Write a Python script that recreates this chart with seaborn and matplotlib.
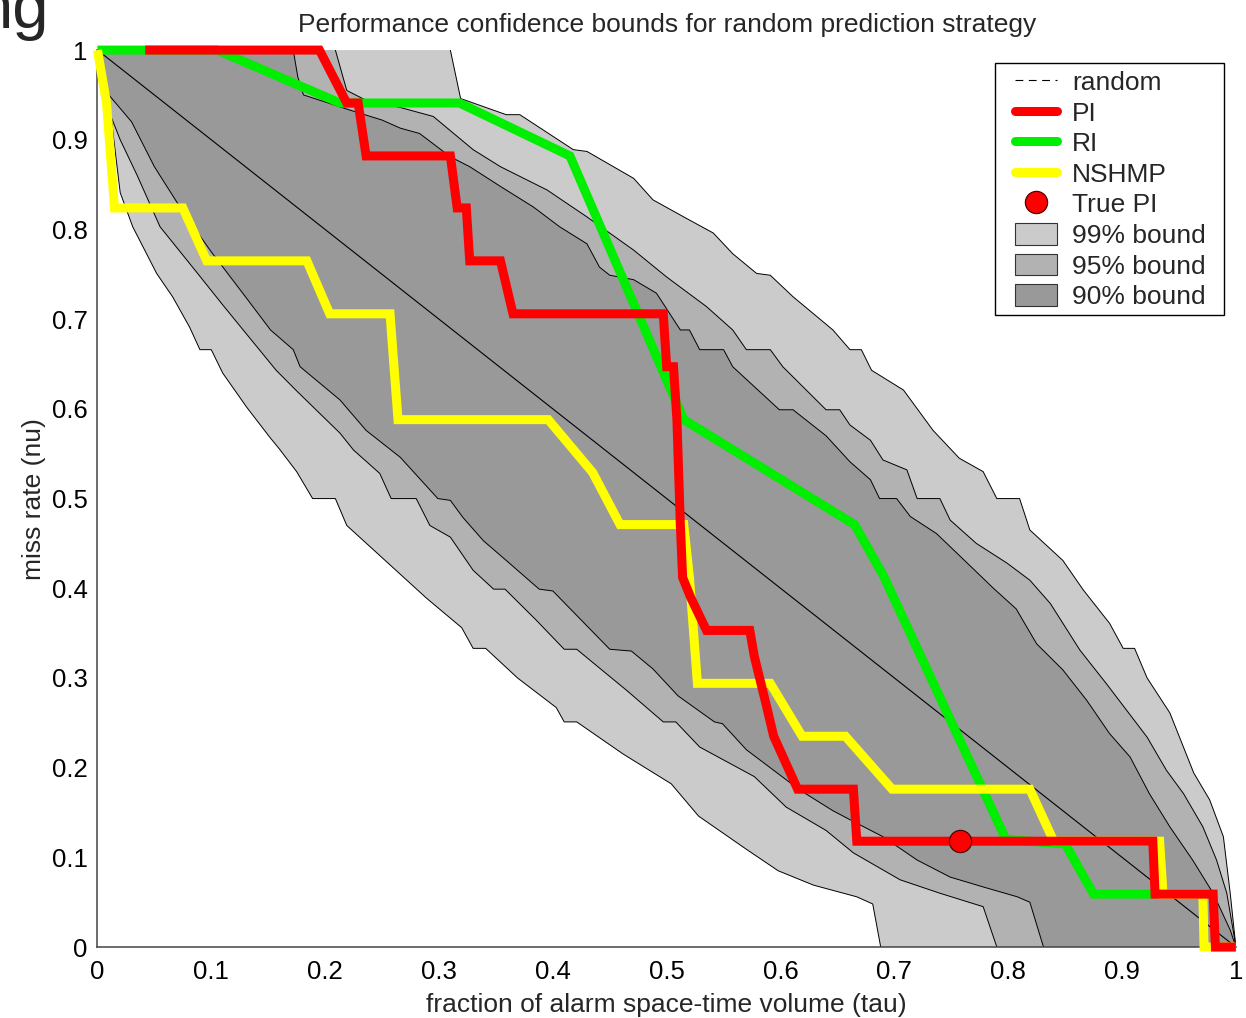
import matplotlib
matplotlib.use("Agg")
import matplotlib.pyplot as plt
import seaborn as sns
from matplotlib.lines import Line2D
from matplotlib.patches import Patch, Rectangle

# ---------------- data ----------------
tick_values = [0, 0.1, 0.2, 0.3, 0.4, 0.5, 0.6, 0.7, 0.8, 0.9, 1]
tick_labels = ["0", "0.1", "0.2", "0.3", "0.4", "0.5", "0.6", "0.7", "0.8", "0.9", "1"]

random_x = [0.0, 1.0]
random_y = [1.0, 0.0]

pi_x = [0.042, 0.195, 0.219, 0.229, 0.236, 0.310, 0.316, 0.324, 0.327, 0.354, 0.365, 0.497,
        0.500, 0.506, 0.509, 0.512, 0.514, 0.521, 0.535, 0.573, 0.577, 0.588, 0.594, 0.615,
        0.664, 0.667, 0.927, 0.929, 0.980, 0.982, 1.0]
pi_y = [1.0, 1.0, 0.941, 0.941, 0.882, 0.882, 0.824, 0.824, 0.765, 0.765, 0.706, 0.706,
        0.647, 0.647, 0.588, 0.471, 0.412, 0.390, 0.353, 0.353, 0.324, 0.267, 0.235, 0.176,
        0.176, 0.118, 0.118, 0.059, 0.059, 0.0, 0.0]

ri_x = [0.0, 0.105, 0.213, 0.318, 0.415, 0.515, 0.665, 0.690, 0.798, 0.850, 0.875, 0.929]
ri_y = [1.0, 1.0, 0.941, 0.941, 0.882, 0.588, 0.471, 0.415, 0.120, 0.115, 0.059, 0.059]

nshmp_x = [0.0, 0.008, 0.015, 0.075, 0.096, 0.184, 0.204, 0.257, 0.264, 0.396, 0.435, 0.459,
           0.515, 0.520, 0.527, 0.591, 0.619, 0.657, 0.698, 0.819, 0.840, 0.933, 0.936,
           0.971, 0.972, 1.0]
nshmp_y = [1.0, 0.941, 0.824, 0.824, 0.765, 0.765, 0.706, 0.706, 0.588, 0.588, 0.529, 0.471,
           0.471, 0.412, 0.294, 0.294, 0.235, 0.235, 0.176, 0.176, 0.118, 0.118, 0.059,
           0.059, 0.0, 0.0]

true_pi_x = [0.758]
true_pi_y = [0.118]

# 99% bound
u99_x = [0, 0.310, 0.319, 0.359, 0.371, 0.418, 0.430, 0.471, 0.488, 0.515, 0.541, 0.558, 0.579,
         0.591, 0.611, 0.629, 0.646, 0.661, 0.671, 0.680, 0.708, 0.734, 0.757, 0.778, 0.790,
         0.810, 0.819, 0.848, 0.866, 0.889, 0.901, 0.911, 0.922, 0.942, 0.963, 0.977, 0.989,
         0.995, 1.0]
u99_y = [1, 1.0, 0.946, 0.928, 0.928, 0.889, 0.887, 0.857, 0.833, 0.814, 0.796, 0.773, 0.751,
         0.749, 0.725, 0.706, 0.688, 0.666, 0.666, 0.643, 0.621, 0.576, 0.545, 0.530, 0.500,
         0.500, 0.465, 0.431, 0.398, 0.361, 0.333, 0.333, 0.300, 0.261, 0.194, 0.164, 0.123,
         0.060, 0.0]
l99_x = [0, 0.011, 0.020, 0.031, 0.052, 0.066, 0.081, 0.090, 0.100, 0.110, 0.131, 0.151, 0.160,
         0.175, 0.189, 0.209, 0.219, 0.251, 0.289, 0.320, 0.330, 0.341, 0.369, 0.403, 0.410,
         0.421, 0.462, 0.504, 0.528, 0.570, 0.598, 0.629, 0.667, 0.681, 0.688, 1.0]
l99_y = [1, 0.936, 0.841, 0.803, 0.751, 0.725, 0.691, 0.666, 0.666, 0.640, 0.602, 0.569, 0.555,
         0.530, 0.500, 0.500, 0.470, 0.433, 0.389, 0.356, 0.333, 0.333, 0.300, 0.267, 0.251,
         0.251, 0.215, 0.182, 0.146, 0.109, 0.085, 0.069, 0.056, 0.048, 0.0, 0.0]

# 95% bound
u95_x = [0, 0.209, 0.219, 0.236, 0.266, 0.295, 0.330, 0.354, 0.395, 0.430, 0.471, 0.500, 0.535,
         0.558, 0.570, 0.591, 0.602, 0.640, 0.652, 0.661, 0.679, 0.690, 0.711, 0.720, 0.740,
         0.749, 0.772, 0.799, 0.819, 0.837, 0.863, 0.886, 0.904, 0.922, 0.939, 0.954, 0.971,
         0.983, 0.992, 0.999, 1.0]
u95_y = [1, 1.0, 0.955, 0.944, 0.936, 0.926, 0.889, 0.870, 0.844, 0.814, 0.777, 0.747, 0.714,
         0.688, 0.666, 0.666, 0.647, 0.599, 0.599, 0.582, 0.565, 0.543, 0.532, 0.500, 0.500,
         0.476, 0.450, 0.428, 0.409, 0.383, 0.331, 0.294, 0.264, 0.234, 0.197, 0.171, 0.134,
         0.097, 0.060, 0.008, 0.0]
l95_x = [0, 0.006, 0.020, 0.035, 0.055, 0.088, 0.110, 0.128, 0.157, 0.175, 0.213, 0.225, 0.248,
         0.258, 0.280, 0.292, 0.310, 0.330, 0.348, 0.358, 0.385, 0.410, 0.421, 0.442, 0.465,
         0.497, 0.508, 0.529, 0.577, 0.605, 0.640, 0.664, 0.705, 0.740, 0.778, 0.790, 1.0]
l95_y = [1, 0.945, 0.900, 0.860, 0.803, 0.751, 0.716, 0.688, 0.643, 0.620, 0.573, 0.554, 0.528,
         0.500, 0.500, 0.470, 0.457, 0.420, 0.399, 0.399, 0.365, 0.332, 0.332, 0.310, 0.286,
         0.251, 0.251, 0.223, 0.190, 0.156, 0.130, 0.105, 0.075, 0.060, 0.045, 0.0, 0.0]

# 90% bound
u90_x = [0, 0.172, 0.176, 0.181, 0.222, 0.250, 0.266, 0.283, 0.310, 0.327, 0.354, 0.383, 0.406,
         0.430, 0.441, 0.450, 0.471, 0.491, 0.512, 0.520, 0.529, 0.550, 0.558, 0.599, 0.611,
         0.640, 0.661, 0.679, 0.687, 0.702, 0.714, 0.737, 0.760, 0.787, 0.807, 0.825, 0.848,
         0.869, 0.889, 0.907, 0.924, 0.942, 0.962, 0.980, 0.995, 1.0]
u90_y = [1, 1.0, 0.970, 0.950, 0.933, 0.922, 0.913, 0.907, 0.881, 0.870, 0.848, 0.825, 0.803,
         0.784, 0.758, 0.749, 0.744, 0.729, 0.688, 0.688, 0.666, 0.666, 0.647, 0.599, 0.599,
         0.570, 0.541, 0.521, 0.500, 0.500, 0.480, 0.461, 0.433, 0.400, 0.377, 0.338, 0.309,
         0.275, 0.238, 0.212, 0.171, 0.134, 0.097, 0.060, 0.019, 0.0]
l90_x = [0, 0.010, 0.030, 0.050, 0.075, 0.100, 0.130, 0.152, 0.172, 0.178, 0.213, 0.236, 0.266,
         0.299, 0.310, 0.321, 0.339, 0.360, 0.388, 0.400, 0.450, 0.469, 0.488, 0.510, 0.542,
         0.549, 0.570, 0.594, 0.617, 0.646, 0.661, 0.690, 0.720, 0.749, 0.778, 0.808, 0.819,
         0.831, 1.0]
l90_y = [1, 0.950, 0.920, 0.870, 0.820, 0.775, 0.725, 0.688, 0.666, 0.647, 0.610, 0.576, 0.546,
         0.500, 0.498, 0.479, 0.453, 0.430, 0.399, 0.397, 0.332, 0.330, 0.310, 0.280, 0.251,
         0.249, 0.220, 0.197, 0.175, 0.152, 0.142, 0.123, 0.097, 0.078, 0.067, 0.056, 0.050,
         0.0, 0.0]

# ---------------- style ----------------
sns.set_theme(style="white")
plt.rcParams["font.family"] = ["Liberation Sans", "DejaVu Sans"]

FS = 19
c99, c95, c90 = "#cbcbcb", "#b2b2b2", "#999999"

fig = plt.figure(figsize=(12.46, 10.18), dpi=100)
ax = fig.add_axes([0.0782, 0.0697, 0.9137, 0.8811])

bands = [(u99_x, u99_y, l99_x, l99_y, c99),
         (u95_x, u95_y, l95_x, l95_y, c95),
         (u90_x, u90_y, l90_x, l90_y, c90)]
for k, (ux, uy, lx, ly, col) in enumerate(bands):
    px = list(ux) + list(lx[::-1])
    py = list(uy) + list(ly[::-1])
    ax.fill(px, py, color=col, lw=0, zorder=1 + 0.1 * k)
for ux, uy, lx, ly, col in bands:
    ax.plot(ux[1:], uy[1:], color="black", lw=0.7, zorder=1.5)
    ax.plot(lx[:-1], ly[:-1], color="black", lw=0.7, zorder=1.5)

sns.lineplot(x=random_x, y=random_y, sort=False, estimator=None, color="black",
             linewidth=0.8, ax=ax, zorder=2)

line_kw = dict(sort=False, estimator=None, linewidth=6.5, ax=ax)
sns.lineplot(x=ri_x, y=ri_y, color="#00ee00", zorder=3, **line_kw)
sns.lineplot(x=nshmp_x, y=nshmp_y, color="#ffff00", zorder=4, **line_kw)
sns.lineplot(x=pi_x, y=pi_y, color="#ff0000", zorder=5, **line_kw)
for ln in ax.get_lines()[-3:]:
    ln.set_clip_on(False)
    ln.set_solid_joinstyle("miter")
    ln.set_solid_capstyle("butt")

ax.plot(true_pi_x, true_pi_y, marker="o", markersize=16, markerfacecolor="#ff0000",
        markeredgecolor="#550000", markeredgewidth=0.9, linestyle="none", zorder=6,
        clip_on=False)

ax.set_xlim(0, 1)
ax.set_ylim(0, 1)
ax.set_xticks(tick_values)
ax.set_xticklabels(tick_labels)
ax.set_yticks(tick_values)
ax.set_yticklabels(tick_labels)
ax.tick_params(axis="both", direction="in", length=8, width=1, color="#333333",
               labelsize=18.5, labelcolor="black")
ax.tick_params(axis="x", pad=9)
ax.tick_params(axis="y", pad=7)
for side in ["top", "right"]:
    ax.spines[side].set_visible(False)
for side in ["left", "bottom"]:
    ax.spines[side].set_color("#444444")
    ax.spines[side].set_linewidth(1.1)
ax.set_facecolor("white")

ax.set_title("Performance confidence bounds for random prediction strategy",
             fontsize=FS, pad=13)
ax.set_xlabel("fraction of alarm space-time volume (tau)", fontsize=FS, labelpad=7)
ax.set_ylabel("miss rate (nu)", fontsize=FS, labelpad=4)

# legend frame drawn as a box matching the reference
frame = Rectangle((0.7883, 0.7046), 0.2011, 0.2809, transform=ax.transAxes,
                  facecolor="white", edgecolor="black", lw=1.0, zorder=9, clip_on=False)
ax.add_patch(frame)

handles = [
    Line2D([], [], color="black", lw=0.8, dashes=(7, 5)),
    Line2D([], [], color="#ff0000", lw=6.5),
    Line2D([], [], color="#00ee00", lw=6.5),
    Line2D([], [], color="#ffff00", lw=6.5),
    Line2D([], [], color="none", marker="o", markersize=16, markerfacecolor="#ff0000",
           markeredgecolor="#550000", markeredgewidth=0.9),
    Patch(facecolor=c99, edgecolor="#333333", lw=0.8),
    Patch(facecolor=c95, edgecolor="#333333", lw=0.8),
    Patch(facecolor=c90, edgecolor="#333333", lw=0.8),
]
labels = ["random", "PI", "RI", "NSHMP", "True PI", "99% bound", "95% bound", "90% bound"]
leg = ax.legend(handles, labels, loc="upper left", bbox_to_anchor=(0.806, 0.9777),
                borderaxespad=0, fontsize=FS, frameon=False, handlelength=1.6,
                handleheight=0.87, handletextpad=0.55, labelspacing=0.22, borderpad=0)
leg.set_zorder(10)

fig.text(-0.019, 1 - 28 / 1018, "ng", fontsize=47, va="baseline", ha="left")

fig.savefig("out.png", dpi=100, facecolor="white")
